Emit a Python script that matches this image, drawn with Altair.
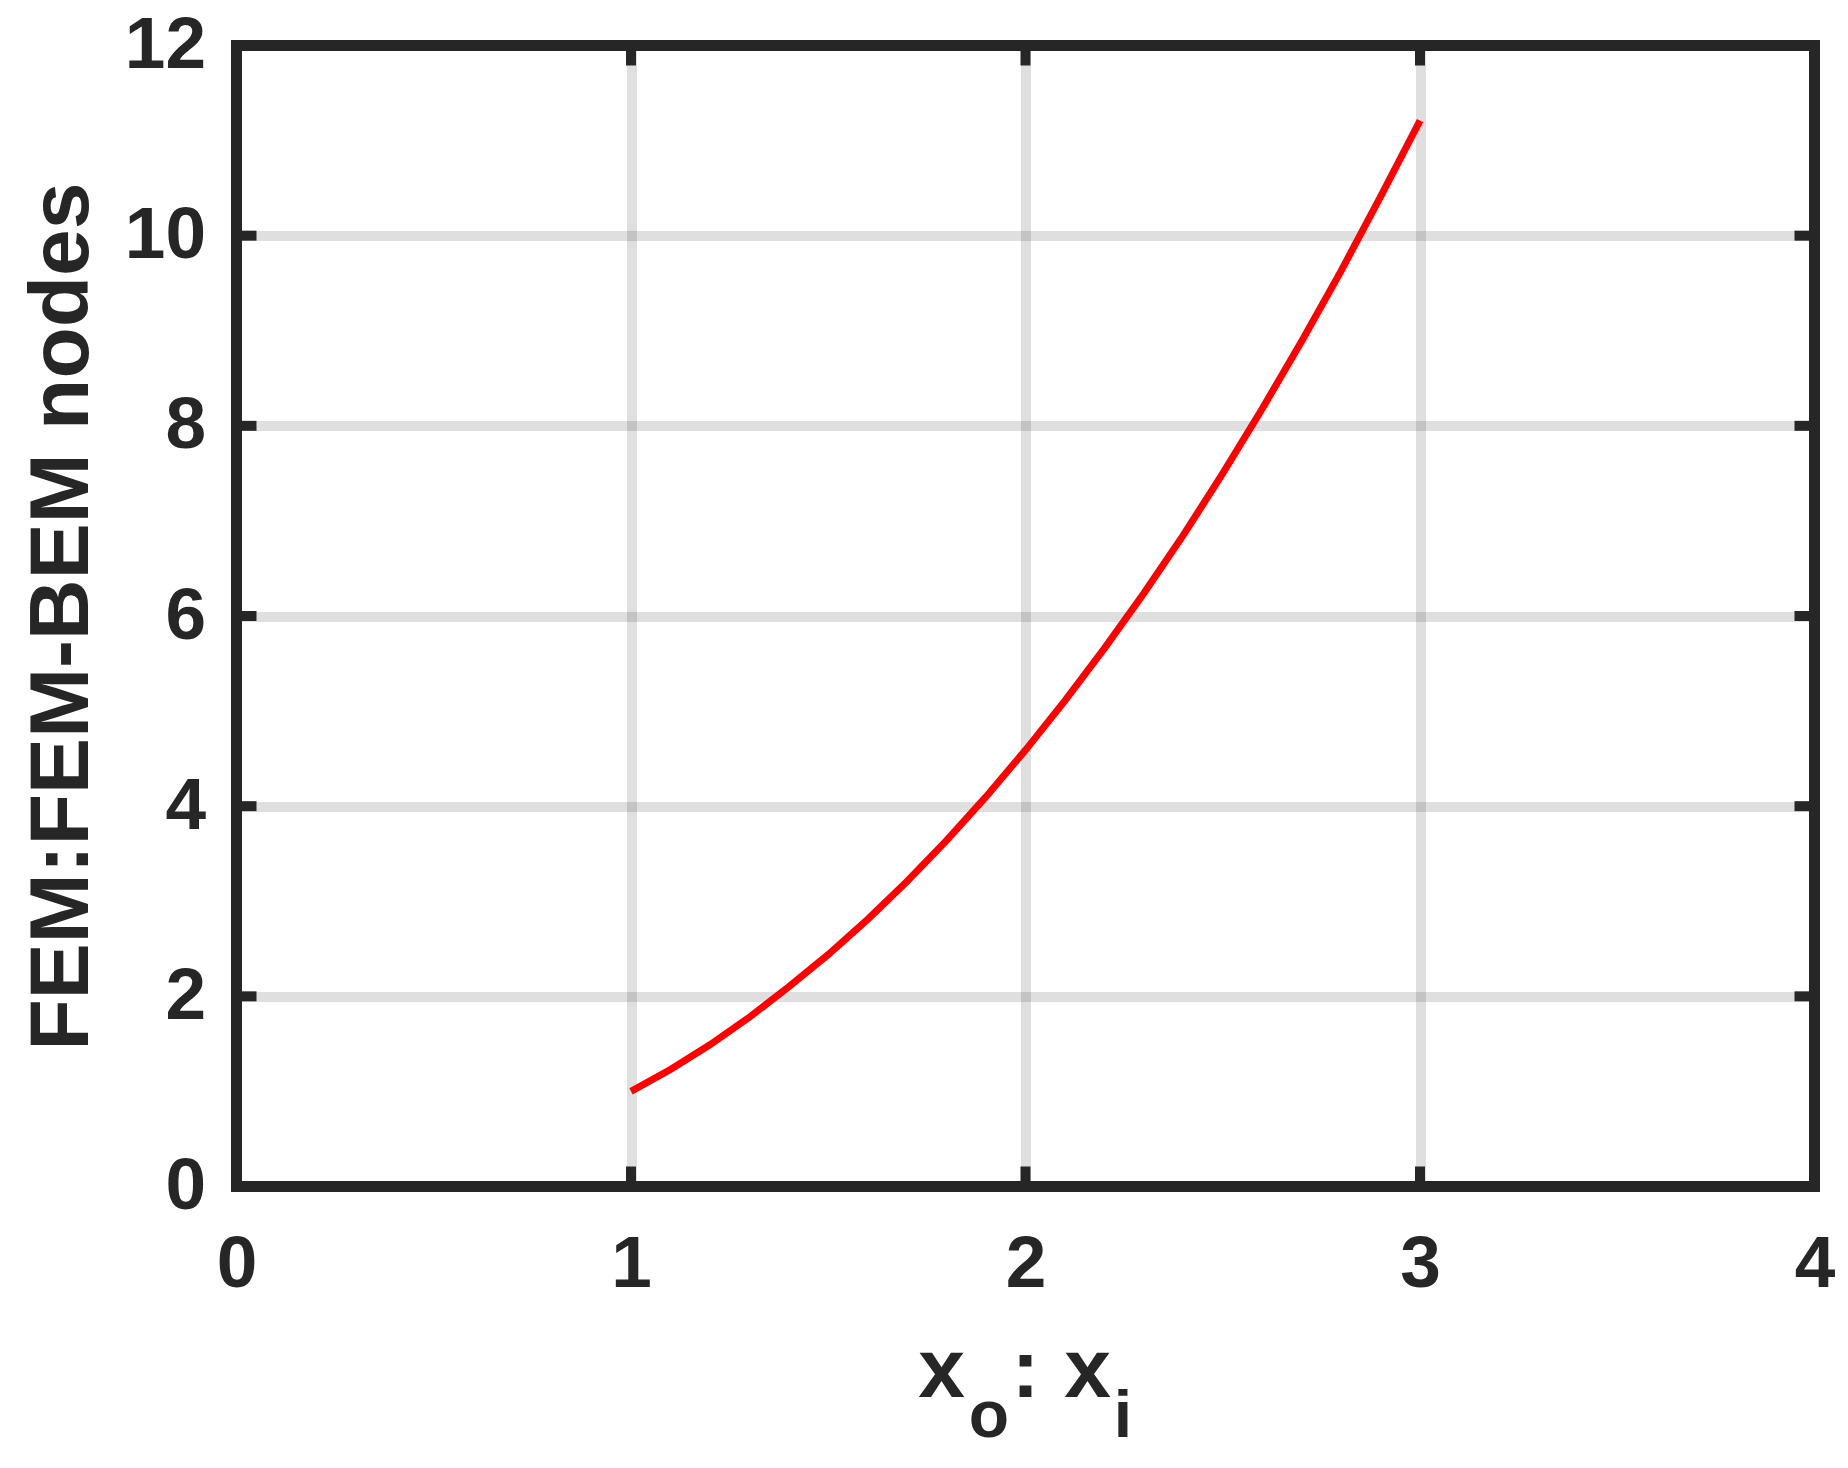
import altair as alt
import pandas as pd

# Data
x_vals = [1.0, 1.1, 1.2, 1.3, 1.4, 1.5, 1.6, 1.7, 1.8, 1.9, 2.0,
          2.1, 2.2, 2.3, 2.4, 2.5, 2.6, 2.7, 2.8, 2.9, 3.0]
y_vals = [1.00, 1.23, 1.49, 1.78, 2.10, 2.44, 2.81, 3.21, 3.64, 4.10, 4.59,
          5.11, 5.66, 6.24, 6.85, 7.50, 8.18, 8.89, 9.63, 10.41, 11.21]
x_ticks = [0, 1, 2, 3, 4]
y_ticks = [0, 2, 4, 6, 8, 10, 12]
y_title = "FEM:FEM-BEM nodes"
x_title_parts = ["x", "o", ":", "x", "i"]

W, H = 1578, 1141
DARK = "#262626"
FONT = "Liberation Sans"

df = pd.DataFrame({"x": x_vals, "y": y_vals})
xt = pd.DataFrame({"x": x_ticks})
yt = pd.DataFrame({"y": y_ticks})

x_scale = alt.Scale(domain=[0, 4], nice=False, zero=False)
y_scale = alt.Scale(domain=[0, 12], nice=False, zero=False)

x_axis = alt.Axis(values=x_ticks, format="d", title=None, domain=False,
                  ticks=False, tickSize=0, labelPadding=42, labelFontSize=73,
                  labelFont=FONT, labelFontWeight="bold", labelColor=DARK,
                  labelFlush=False, labelOverlap=False, labelBound=False,
                  grid=True, gridColor=DARK, gridOpacity=0.15, gridWidth=10)
y_axis = alt.Axis(values=y_ticks, format="d", title=y_title, domain=False,
                  ticks=False, tickSize=0, labelPadding=31, labelFontSize=73,
                  labelFont=FONT, labelFontWeight="bold", labelColor=DARK,
                  labelFlush=False, labelOverlap=False, labelBound=False,
                  grid=True, gridColor=DARK, gridOpacity=0.15, gridWidth=10,
                  titleFont=FONT, titleFontSize=84, titleFontWeight="bold",
                  titleColor=DARK, titleAngle=270, titleX=-149.5, titleY=H / 2,
                  titleAlign="center", titleBaseline="alphabetic")

X = alt.X("x:Q", scale=x_scale, axis=x_axis)
Y = alt.Y("y:Q", scale=y_scale, axis=y_axis)

line = alt.Chart(df).mark_line(color="#ff0000", strokeWidth=7).encode(x=X, y=Y)

tick_len = 20
tb = alt.Chart(xt).mark_rule(color=DARK, strokeWidth=10).encode(
    x=X, y=alt.value(H), y2=alt.value(H - tick_len))
tt = alt.Chart(xt).mark_rule(color=DARK, strokeWidth=10).encode(
    x=X, y=alt.value(0), y2=alt.value(tick_len))
tl = alt.Chart(yt).mark_rule(color=DARK, strokeWidth=10).encode(
    y=Y, x=alt.value(0), x2=alt.value(tick_len))
tr = alt.Chart(yt).mark_rule(color=DARK, strokeWidth=10).encode(
    y=Y, x=alt.value(W), x2=alt.value(W - tick_len))

frame = alt.Chart(alt.Data(values=[{}])).mark_rect(
    filled=False, stroke=DARK, strokeWidth=11).encode(
    x=alt.value(0), x2=alt.value(W), y=alt.value(0), y2=alt.value(H))

# x-axis title with subscripts
txt_pos = [(705, 1351.5, 84), (752.5, 1391.5, 66), (789, 1351.5, 84),
           (851, 1351.5, 84), (886.5, 1391.5, 66)]
title_layers = []
for s, (px, py, fs) in zip(x_title_parts, txt_pos):
    title_layers.append(
        alt.Chart(alt.Data(values=[{}])).mark_text(
            text=s, font=FONT, fontWeight="bold", fontSize=fs, color=DARK,
            align="center", baseline="alphabetic").encode(
            x=alt.value(px), y=alt.value(py)))

chart = alt.layer(line, tb, tt, tl, tr, frame, *title_layers).properties(
    width=W, height=H,
    autosize=alt.AutoSizeParams(type="none"),
    padding={"left": 228.5, "top": 37.5, "right": 25, "bottom": 273},
    background="white",
).configure_view(stroke=None)

chart.save("out.html", embed_options={"renderer": "svg", "actions": False})
